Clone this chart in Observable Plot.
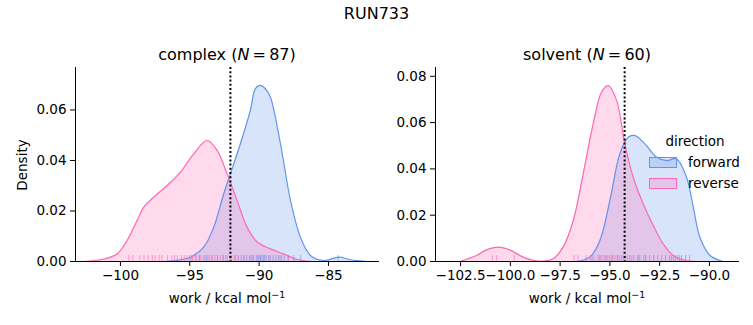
<!DOCTYPE html>
<html>
<head>
<meta charset="utf-8">
<script src="https://cdn.jsdelivr.net/npm/d3@7"></script>
<script src="https://cdn.jsdelivr.net/npm/@observablehq/plot@0.6"></script>
<style>
  html, body { margin: 0; padding: 0; background: #fff; }
  #fig { position: relative; width: 753px; height: 325px; font-family: "DejaVu Sans", sans-serif; color: #000; overflow: hidden; }
  .abs { position: absolute; white-space: nowrap; }
  .plot { position: absolute; top: 60px; }
  sup { font-size: 70%; vertical-align: 0; position: relative; top: -0.55em; }
</style>
</head>
<body>
<div id="fig"></div>
<script>
// ---------- data ----------
const suptitle = "RUN733";
const panelNames = ["complex", "solvent"];
const panelN = [87, 60];
const directions = ["forward", "reverse"];

// complex: KDE curves
const complexForwardX = [-97.5, -96.4, -94.95, -93.99, -93.27, -92.55, -92.07, -91.35, -90.63, -90.27, -89.91, -89.55, -89.19, -88.46, -87.74, -87.02, -86.30, -85.34, -84.26, -83.42, -82.21];
const complexForwardY = [0, 0.0002, 0.0017, 0.0057, 0.0136, 0.0268, 0.0347, 0.0466, 0.0598, 0.0684, 0.0697, 0.0684, 0.0651, 0.0466, 0.0242, 0.0096, 0.0024, 0.0004, 0.0017, 0.0007, 0];
const complexReverseX = [-103.0, -102.16, -101.2, -100.24, -99.52, -98.80, -98.32, -97.60, -96.63, -95.67, -94.71, -93.75, -93.03, -92.31, -91.59, -90.87, -90.14, -89.19, -88.23, -87.26, -86.30];
const complexReverseY = [0, 0.0002, 0.001, 0.003, 0.0083, 0.0162, 0.0215, 0.0255, 0.0301, 0.0354, 0.0426, 0.0479, 0.0440, 0.0347, 0.0242, 0.0136, 0.0077, 0.005, 0.003, 0.0008, 0];
// complex: rug (individual work values)
const complexForwardRug = [-94.9, -94.3, -93.8, -93.4, -93.0, -92.6, -92.3, -92.0, -91.7, -91.5, -91.3, -91.1, -90.9, -90.7, -90.5, -90.4, -90.2, -90.1, -90.0, -89.9, -89.8, -89.7, -89.6, -89.5, -89.3, -89.2, -89.0, -88.8, -88.6, -88.4, -88.2, -87.9, -87.5, -87.0, -84.3];
const complexReverseRug = [-99.4, -99.1, -98.6, -98.3, -98.0, -97.7, -97.5, -97.2, -97.0, -96.6, -96.3, -96.1, -95.9, -95.6, -95.4, -95.2, -95.0, -94.8, -94.6, -94.5, -94.3, -94.2, -94.0, -93.9, -93.7, -93.6, -93.4, -93.2, -93.0, -92.8, -92.6, -92.4, -92.1, -91.8, -91.5, -91.1, -90.6, -90.0, -89.3, -88.5, -87.9];
const complexMarker = -92.07;

// solvent: KDE curves
const solventForwardX = [-96.68, -96.01, -95.50, -95.0, -94.50, -94.08, -93.74, -93.24, -92.65, -92.15, -91.65, -91.15, -90.81, -90.48, -89.97, -89.31];
const solventForwardY = [0, 0.0019, 0.0091, 0.0263, 0.0465, 0.0537, 0.0544, 0.0508, 0.0450, 0.0436, 0.0443, 0.0364, 0.0234, 0.0105, 0.0026, 0];
const solventReverseX = [-102.54, -101.70, -101.20, -100.61, -100.03, -99.36, -98.52, -97.85, -97.35, -96.84, -96.34, -95.84, -95.42, -95.08, -94.66, -94.25, -93.83, -93.33, -92.82, -92.32, -91.82, -91.15, -90.64];
const solventReverseY = [0, 0.0026, 0.005, 0.0062, 0.005, 0.0019, 0.0001, 0.0012, 0.0062, 0.0177, 0.0379, 0.0594, 0.0731, 0.0760, 0.0695, 0.0508, 0.0364, 0.0249, 0.0155, 0.0076, 0.0026, 0.0004, 0];
// solvent: rug
const solventForwardRug = [-95.9, -95.5, -95.2, -94.9, -94.6, -94.4, -94.2, -94.0, -93.8, -93.6, -93.5, -93.3, -93.2, -93.0, -92.8, -92.6, -92.4, -92.2, -92.0, -91.9, -91.8, -91.7, -91.6, -91.5, -91.4, -91.2, -91.0];
const solventReverseRug = [-100.9, -100.7, -99.8, -96.8, -96.6, -96.2, -96.0, -95.8, -95.6, -95.5, -95.4, -95.3, -95.2, -95.1, -95.0, -94.9, -94.8, -94.7, -94.6, -94.5, -94.3, -94.1, -93.9, -93.6, -93.2, -92.8];
const solventMarker = -94.26;

// axis ticks
const complexXTicks = [-100, -95, -90, -85];
const complexYTicks = [0, 0.02, 0.04, 0.06];
const solventXTicks = [-102.5, -100, -97.5, -95, -92.5, -90];
const solventYTicks = [0, 0.02, 0.04, 0.06, 0.08];

// ---------- drawing ----------
const BLUE = "#6495ED";
const PINK = "#FF69B4";
const CURVE = "catmull-rom";
const toPts = (X, Y) => X.map((x, i) => ({x, y: Y[i]}));

function panel(o) {
  const fwd = toPts(o.fx, o.fy), rev = toPts(o.rx, o.ry);
  const frameH = 240 - 7 - 39;
  return Plot.plot({
    width: o.width, height: 240,
    marginTop: 7, marginBottom: 39, marginLeft: o.ml, marginRight: o.mr,
    style: {fontFamily: "DejaVu Sans", fontSize: "13.5px", color: "#000", background: "transparent", overflow: "visible"},
    x: {domain: o.xDomain, ticks: o.xTicks, tickFormat: o.xFmt, tickSize: 5, tickPadding: 4, label: null},
    y: {domain: o.yDomain, ticks: o.yTicks, tickFormat: d3.format(".2f"), tickSize: 5, tickPadding: 4, label: null},
    marks: [
      Plot.areaY(fwd, {x: "x", y: "y", fill: BLUE, fillOpacity: 0.25, curve: CURVE, clip: true}),
      Plot.areaY(rev, {x: "x", y: "y", fill: PINK, fillOpacity: 0.25, curve: CURVE, clip: true}),
      Plot.line(fwd, {x: "x", y: "y", stroke: BLUE, strokeWidth: 1.2, curve: CURVE, clip: true}),
      Plot.line(rev, {x: "x", y: "y", stroke: PINK, strokeWidth: 1.2, curve: CURVE, clip: true}),
      Plot.ruleX(o.fRug, {x: d => d, stroke: BLUE, strokeOpacity: 0.6, strokeWidth: 1, insetTop: frameH - 6}),
      Plot.ruleX(o.rRug, {x: d => d, stroke: PINK, strokeOpacity: 0.6, strokeWidth: 1, insetTop: frameH - 6}),
      Plot.ruleX([o.marker], {stroke: "#000", strokeWidth: 2, strokeDasharray: "2,2.2"}),
      Plot.ruleX([o.xDomain[0]], {stroke: "#000", strokeWidth: 1}),
      Plot.ruleY([0], {stroke: "#000", strokeWidth: 1})
    ]
  });
}

const fig = document.getElementById("fig");
function addText(html, css) {
  const d = document.createElement("div");
  d.className = "abs";
  d.innerHTML = html;
  Object.assign(d.style, css);
  fig.appendChild(d);
  return d;
}

const p1 = panel({
  width: 390, ml: 75, mr: 11,
  xDomain: [-103.24, -81.32], yDomain: [0, 0.0768],
  xTicks: complexXTicks, yTicks: complexYTicks, xFmt: d3.format("d"),
  fx: complexForwardX, fy: complexForwardY, rx: complexReverseX, ry: complexReverseY,
  fRug: complexForwardRug, rRug: complexReverseRug, marker: complexMarker
});
p1.classList.add("plot"); p1.style.left = "0px";
fig.appendChild(p1);

const p2 = panel({
  width: 363, ml: 45, mr: 14,
  xDomain: [-103.76, -88.49], yDomain: [0, 0.0838],
  xTicks: solventXTicks, yTicks: solventYTicks, xFmt: d3.format(".1f"),
  fx: solventForwardX, fy: solventForwardY, rx: solventReverseX, ry: solventReverseY,
  fRug: solventForwardRug, rRug: solventReverseRug, marker: solventMarker
});
p2.classList.add("plot"); p2.style.left = "390px";
fig.appendChild(p2);

// titles & labels
const center = (cx, cy) => ({left: cx + "px", top: cy + "px", transform: "translate(-50%,-50%)"});
addText(suptitle, Object.assign(center(376.5, 13), {fontSize: "16px"}));
addText(`${panelNames[0]} (<i>N</i>&#8201;=&#8201;${panelN[0]})`, Object.assign(center(227, 54), {fontSize: "16px"}));
addText(`${panelNames[1]} (<i>N</i>&#8201;=&#8201;${panelN[1]})`, Object.assign(center(587, 54), {fontSize: "16px"}));
addText("work / kcal mol<sup>−1</sup>", Object.assign(center(227, 298), {fontSize: "13.5px"}));
addText("work / kcal mol<sup>−1</sup>", Object.assign(center(587, 298), {fontSize: "13.5px"}));
addText("Density", {left: "22px", top: "165px", transform: "translate(-50%,-50%) rotate(-90deg)", fontSize: "13.5px"});

// legend
addText("direction", Object.assign(center(695, 141), {fontSize: "13.5px"}));
const legendColors = [BLUE, PINK];
directions.forEach((name, i) => {
  const y = 157 + i * 21;
  const sw = document.createElement("div");
  sw.className = "abs";
  Object.assign(sw.style, {left: "649px", top: y + "px", width: "26px", height: "9px",
    border: "1px solid " + legendColors[i], background: legendColors[i] + "40"});
  fig.appendChild(sw);
  addText(name, {left: "688px", top: (y + 5) + "px", transform: "translateY(-50%)", fontSize: "13.5px"});
});
</script>
</body>
</html>
